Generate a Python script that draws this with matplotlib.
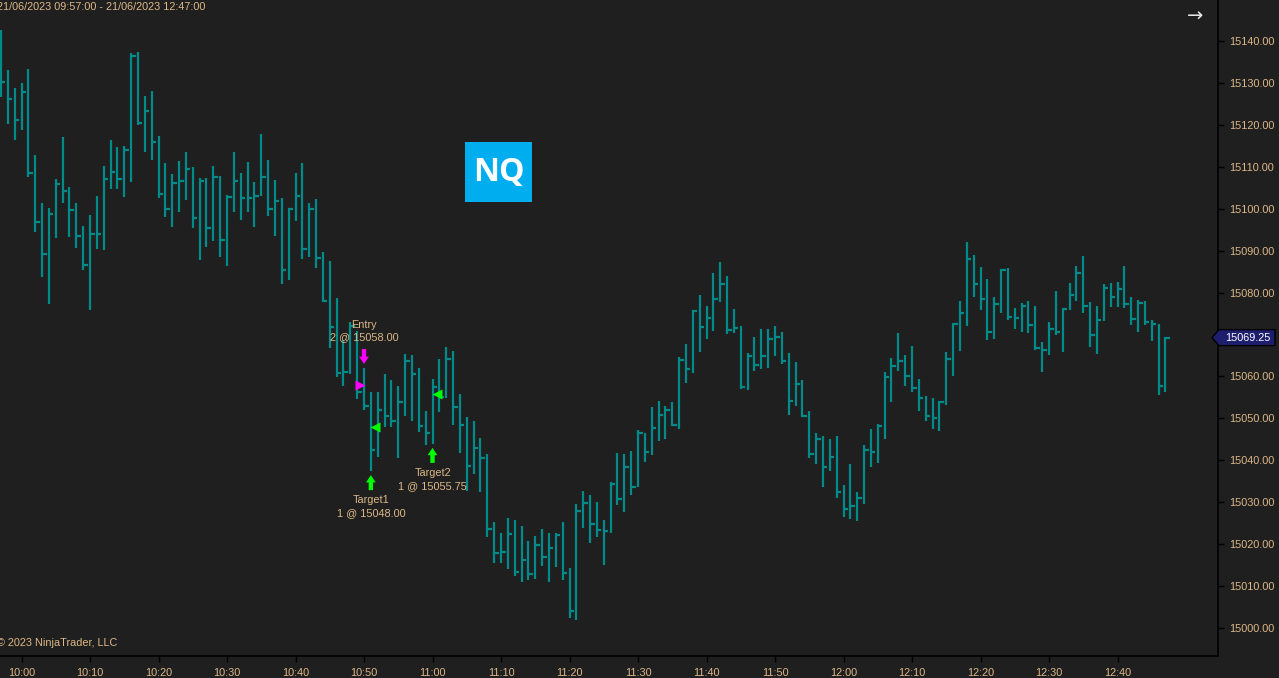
import matplotlib
matplotlib.use('Agg')
import matplotlib.pyplot as plt
from matplotlib.patches import Polygon, Rectangle
from matplotlib.transforms import IdentityTransform
from matplotlib.ticker import FixedLocator, FuncFormatter
import numpy as np

# ---------------- data ----------------
title_range = "21/06/2023 09:57:00 - 21/06/2023 12:47:00"
copyright_text = "© 2023 NinjaTrader, LLC"
instrument = "NQ"
first_minute = -3          # 09:57 expressed as minutes from 10:00
time_tick_labels = ["10:00", "10:10", "10:20", "10:30", "10:40", "10:50", "11:00",
                    "11:10", "11:20", "11:30", "11:40", "11:50", "12:00", "12:10",
                    "12:20", "12:30", "12:40"]
price_ticks = [15000, 15010, 15020, 15030, 15040, 15050, 15060, 15070,
               15080, 15090, 15100, 15110, 15120, 15130, 15140]

highs = [15142.6, 15133.1, 15128.8, 15130.0, 15133.3, 15112.8, 15101.4, 15100.2, 15107.1, 15117.1,
         15105.2, 15101.4, 15095.9, 15098.5, 15103.0, 15110.2, 15116.4, 15114.7, 15115.0, 15137.1,
         15137.4, 15126.9, 15128.1, 15117.3, 15110.9, 15108.3, 15111.4, 15113.5, 15110.0, 15107.3,
         15107.3, 15110.2, 15107.8, 15103.3, 15113.5, 15108.5, 15111.1, 15106.4, 15117.8, 15111.6,
         15106.8, 15102.6, 15100.2, 15108.5, 15110.9, 15101.4, 15102.3, 15089.7, 15087.5, 15078.7,
         15068.7, 15073.0, 15070.8, 15062.0, 15056.3, 15056.3, 15060.6, 15059.2, 15057.7, 15065.3,
         15065.1, 15062.0, 15051.8, 15059.4, 15064.2, 15067.0, 15066.1, 15055.8, 15050.3, 15049.4,
         15045.3, 15041.5, 15025.3, 15022.7, 15026.2, 15025.8, 15024.3, 15020.8, 15021.9, 15023.6,
         15022.7, 15022.7, 15025.3, 15014.3, 15029.6, 15032.7, 15031.7, 15030.1, 15025.8, 15034.8,
         15041.7, 15041.5, 15042.2, 15047.2, 15046.5, 15052.7, 15054.1, 15053.0, 15053.9, 15064.6,
         15067.7, 15075.8, 15079.4, 15076.8, 15084.7, 15087.3, 15084.0, 15076.0, 15072.0, 15065.6,
         15069.4, 15071.3, 15071.3, 15072.0, 15070.6, 15065.6, 15063.4, 15059.2, 15051.8, 15046.5,
         15045.8, 15045.1, 15045.8, 15034.1, 15039.1, 15032.4, 15043.6, 15047.5, 15048.7, 15061.1,
         15064.4, 15070.4, 15065.1, 15067.3, 15059.4, 15055.3, 15054.9, 15054.1, 15065.8, 15072.7,
         15078.0, 15092.0, 15089.0, 15086.1, 15083.2, 15078.9, 15085.6, 15085.9, 15076.3, 15077.5,
         15078.0, 15076.8, 15068.2, 15073.0, 15080.4, 15076.3, 15082.3, 15086.3, 15088.7, 15077.8,
         15076.8, 15082.0, 15082.3, 15082.5, 15086.3, 15078.9, 15078.2, 15078.0, 15073.5, 15072.5,
         15069.4]
lows = [15126.7, 15120.2, 15116.4, 15118.8, 15107.6, 15094.4, 15083.7, 15077.3, 15093.0, 15101.4,
        15093.3, 15090.6, 15085.4, 15075.8, 15090.4, 15090.2, 15104.7, 15104.7, 15102.8, 15106.4,
        15120.0, 15113.5, 15111.6, 15102.6, 15098.0, 15095.6, 15099.2, 15102.1, 15095.4, 15087.8,
        15090.9, 15092.3, 15088.5, 15086.3, 15099.2, 15097.3, 15099.2, 15095.6, 15103.0, 15098.3,
        15093.5, 15082.0, 15083.0, 15097.1, 15088.0, 15088.5, 15085.9, 15077.8, 15066.8, 15059.9,
        15057.7, 15060.6, 15054.6, 15052.0, 15037.4, 15040.8, 15047.9, 15047.9, 15040.5, 15050.6,
        15049.4, 15046.7, 15043.6, 15043.9, 15051.5, 15054.9, 15048.4, 15041.7, 15032.7, 15036.7,
        15032.4, 15021.7, 15015.5, 15015.5, 15014.1, 15012.4, 15011.0, 15011.5, 15011.7, 15014.8,
        15011.0, 15014.6, 15011.5, 15002.4, 15001.9, 15023.9, 15020.3, 15021.7, 15015.0, 15022.7,
        15029.3, 15027.7, 15031.7, 15033.6, 15039.6, 15041.3, 15044.6, 15045.1, 15048.2, 15047.5,
        15058.4, 15060.8, 15065.8, 15068.9, 15070.8, 15077.8, 15070.1, 15070.4, 15057.0, 15056.8,
        15061.3, 15061.8, 15062.0, 15064.9, 15063.0, 15050.8, 15053.0, 15050.3, 15040.5, 15039.1,
        15033.6, 15037.4, 15031.0, 15026.5, 15026.0, 15025.5, 15029.6, 15038.4, 15039.4, 15045.1,
        15053.9, 15061.3, 15057.7, 15056.3, 15051.8, 15049.4, 15047.5, 15047.0, 15053.2, 15060.1,
        15066.1, 15072.0, 15079.0, 15075.8, 15068.7, 15068.9, 15075.1, 15073.5, 15071.3, 15070.6,
        15070.4, 15066.3, 15061.1, 15065.1, 15069.9, 15065.8, 15075.8, 15078.0, 15075.1, 15067.0,
        15065.4, 15073.2, 15076.6, 15076.6, 15076.3, 15072.3, 15070.6, 15072.3, 15068.5, 15055.6,
        15056.3]
closes = [15130.3, 15126.2, 15121.2, 15127.9, 15108.4, 15096.9, 15089.3, 15098.8, 15106.0, 15104.3,
          15099.8, 15093.6, 15086.6, 15094.0, 15094.0, 15107.2, 15108.8, 15107.2, 15114.1, 15136.4,
          15120.4, 15123.3, 15115.9, 15103.5, 15099.9, 15106.1, 15106.6, 15109.5, 15097.8, 15106.6,
          15095.4, 15107.6, 15092.5, 15102.8, 15106.6, 15102.6, 15102.6, 15103.0, 15107.6, 15099.9,
          15101.8, 15085.4, 15099.9, 15103.0, 15090.4, 15099.9, 15088.2, 15078.0, 15071.8, 15060.8,
          15061.1, 15072.0, 15056.3, 15053.0, 15042.5, 15052.0, 15050.6, 15049.4, 15053.9, 15063.7,
          15060.6, 15048.2, 15046.5, 15057.5, 15055.1, 15064.2, 15052.7, 15048.4, 15038.6, 15042.9,
          15040.5, 15023.6, 15017.9, 15018.1, 15022.4, 15013.4, 15016.2, 15012.9, 15019.8, 15016.9,
          15019.1, 15022.2, 15013.1, 15004.1, 15027.9, 15029.8, 15024.8, 15023.4, 15023.1, 15034.3,
          15030.8, 15038.4, 15033.6, 15046.5, 15042.0, 15047.7, 15050.8, 15052.0, 15048.4, 15063.9,
          15061.8, 15075.6, 15071.8, 15073.9, 15078.5, 15082.0, 15071.1, 15071.6, 15057.5, 15064.9,
          15062.7, 15064.9, 15068.9, 15069.4, 15063.7, 15054.1, 15058.2, 15050.6, 15041.5, 15045.1,
          15038.4, 15040.8, 15032.4, 15028.4, 15029.1, 15031.0, 15042.5, 15042.0, 15048.2, 15059.9,
          15062.5, 15063.7, 15060.1, 15057.2, 15054.9, 15050.6, 15050.1, 15053.9, 15064.2, 15072.5,
          15075.0, 15088.0, 15082.0, 15078.5, 15070.6, 15077.3, 15085.4, 15074.2, 15073.9, 15076.8,
          15072.3, 15066.8, 15066.3, 15071.3, 15070.6, 15076.1, 15079.4, 15084.7, 15076.8, 15069.9,
          15073.5, 15081.1, 15078.9, 15080.9, 15077.3, 15073.7, 15077.5, 15073.0, 15072.5, 15057.7,
          15069.25]

# executions
exec_bars = [53, 54, 63]
exec_prices = [15058.00, 15048.00, 15055.75]
exec_kinds = ["entry", "target", "target"]
exec_names = ["Entry", "Target1", "Target2"]
exec_qty = [2, 1, 1]

# ---------------- style ----------------
W, H = 1279, 678
bg = '#1f1f1f'
tan = '#deb887'
bar_col = '#008b8b'
FONT = ['Liberation Sans', 'DejaVu Sans']
plt.rcParams['font.family'] = FONT

fig = plt.figure(figsize=(W / 100, H / 100), dpi=100)
fig.patch.set_facecolor(bg)
ax = fig.add_axes([0, 22 / H, 1218 / W, 1 - 22 / H])
ax.set_facecolor(bg)

n = len(highs)
x = np.arange(n) + first_minute
ax.set_xlim(-3.139, 174.67)
ax.set_ylim(14993.3, 15149.78)

fig.canvas.draw()
px_per_min = ax.transData.transform((1, 0))[0] - ax.transData.transform((0, 0))[0]
px_per_pt = ax.transData.transform((0, 1))[1] - ax.transData.transform((0, 0))[1]

ax.vlines(x, lows, highs, color=bar_col, lw=1.6)
ax.hlines(closes, x - 0.35 / px_per_min, x + 4.5 / px_per_min, color=bar_col, lw=1.6)

# axes / ticks
for s in ['left', 'top']:
    ax.spines[s].set_visible(False)
for s in ['right', 'bottom']:
    ax.spines[s].set_color('#000000')
    ax.spines[s].set_linewidth(1.2)
ax.yaxis.tick_right()
ax.yaxis.set_major_locator(FixedLocator(price_ticks))
ax.yaxis.set_major_formatter(FuncFormatter(lambda v, p: f"{v:.2f}"))
ax.set_xticks(np.arange(len(time_tick_labels)) * 10)
ax.set_xticklabels(time_tick_labels)
ax.tick_params(axis='y', direction='out', length=4, width=1, color='#000000',
               pad=4, labelsize=7.8, labelcolor=tan)
ax.tick_params(axis='x', direction='out', length=4, width=1, color='#000000',
               pad=5, labelsize=7.8, labelcolor=tan)

# executions
for b, p, kind, name, q in zip(exec_bars, exec_prices, exec_kinds, exec_names, exec_qty):
    bx = x[b]
    col = '#ff00ff' if kind == 'entry' else '#00ff00'
    if kind == 'entry':
        ax.plot(bx - 4 / px_per_min, p, marker='>', ms=7, color=col, mec='none')
        tip = highs[b] + 4 / px_per_pt
        tail = tip + 15 / px_per_pt
        off1, off2 = 24, 12
    else:
        ax.plot(bx + 4 / px_per_min, p, marker='<', ms=7, color=col, mec='none')
        tip = lows[b] - 4 / px_per_pt
        tail = tip - 15 / px_per_pt
        off1, off2 = -10, -23
    ax.annotate('', xy=(bx, tip), xytext=(bx, tail),
                arrowprops=dict(arrowstyle='simple,head_length=0.75,head_width=1.0,tail_width=0.45',
                                fc=col, ec='none', shrinkA=0, shrinkB=0, mutation_scale=7))
    ax.annotate(name, xy=(bx, tail), xytext=(0, off1), textcoords='offset pixels',
                ha='center', va='center', fontsize=7.8, color=tan)
    ax.annotate(f"{q} @ {p:.2f}", xy=(bx, tail), xytext=(0, off2), textcoords='offset pixels',
                ha='center', va='center', fontsize=7.8, color=tan)

# last price tag
last = closes[-1]
yd = ax.transData.transform((0, last))[1]
tag = Polygon([(1212, yd), (1219, yd + 8), (1275, yd + 8), (1275, yd - 8), (1219, yd - 8)],
              closed=True, transform=IdentityTransform(), fc='#1e1e6e', ec='#000000', lw=1)
fig.add_artist(tag)
fig.text(1248 / W, yd / H, f"{last:.2f}", ha='center', va='center', fontsize=7.8, color='white')

# instrument logo
fig.add_artist(Rectangle((465, H - 202), 67, 60, transform=IdentityTransform(),
                         fc='#00aeef', ec='none'))
fig.text(498.5 / W, (H - 173) / H, instrument, ha='center', va='center', fontsize=23,
         color='white', fontweight='bold', family=['Open Sans', 'DejaVu Sans'])

# texts
fig.text(-3 / W, 1 - 7 / H, title_range, ha='left', va='center', fontsize=7.8, color=tan)
fig.text(-3 / W, 1 - 643 / H, copyright_text, ha='left', va='center', fontsize=7.8, color=tan)
fig.text(1195 / W, 1 - 16 / H, '→', ha='center', va='center', fontsize=14, color='#e6e6e6',
         family=['DejaVu Sans'])

fig.savefig('out.png', dpi=100, facecolor=bg)
